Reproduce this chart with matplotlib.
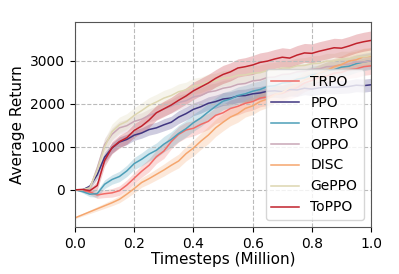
import numpy as np
import matplotlib
matplotlib.use("Agg")
import matplotlib.pyplot as plt

timesteps = [0.025 * i for i in range(41)]

trpo = [0, -20, -50, -120, -90, -70, -20, 110, 270, 430, 570, 770, 900, 1120, 1290, 1390, 1430, 1520, 1590, 1730,
        1790, 1890, 1940, 2010, 2050, 2130, 2160, 2220, 2240, 2310, 2370, 2480, 2540, 2610, 2640, 2710, 2730, 2790,
        2810, 2860, 2880]
trpo_std = [0, 30, 60, 80, 90, 100, 110, 120, 130, 140, 150, 160, 170, 170, 180, 180, 180, 190, 190, 190,
            200, 200, 200, 200, 200, 200, 200, 200, 200, 200, 200, 200, 200, 200, 200, 200, 200, 200, 200, 200, 200]
ppo = [0, 0, 80, 350, 760, 970, 1110, 1170, 1270, 1320, 1400, 1440, 1510, 1570, 1690, 1770, 1870, 1930, 2010, 2050,
       2110, 2130, 2180, 2190, 2230, 2250, 2290, 2300, 2280, 2330, 2320, 2360, 2340, 2370, 2390, 2380, 2390, 2400,
       2430, 2420, 2440]
ppo_std = [0, 20, 60, 100, 120, 120, 120, 120, 120, 120, 130, 130, 140, 140, 150, 150, 150, 150, 150, 150,
           150, 150, 150, 150, 150, 150, 150, 150, 150, 150, 150, 150, 150, 150, 150, 150, 150, 150, 150, 150, 150]
otrpo = [0, -40, -100, -90, 130, 240, 310, 440, 610, 710, 830, 920, 1060, 1170, 1310, 1420, 1560, 1670, 1810, 1940,
         2060, 2110, 2190, 2230, 2290, 2330, 2400, 2420, 2480, 2500, 2570, 2600, 2670, 2700, 2770, 2790, 2850, 2870,
         2930, 2970, 3000]
otrpo_std = [0, 30, 60, 80, 100, 110, 120, 130, 140, 150, 160, 170, 180, 180, 190, 190, 200, 200, 200, 200,
             200, 200, 200, 200, 200, 200, 200, 200, 200, 200, 200, 200, 200, 200, 200, 200, 200, 200, 200, 200, 200]
oppo = [0, 0, 30, 500, 1050, 1290, 1440, 1490, 1590, 1640, 1730, 1790, 1880, 1940, 2030, 2070, 2160, 2190, 2270,
        2300, 2360, 2390, 2450, 2470, 2530, 2550, 2610, 2620, 2680, 2690, 2740, 2750, 2800, 2810, 2860, 2870, 2910,
        2920, 2970, 2970, 3000]
oppo_std = [0, 20, 60, 120, 150, 150, 150, 150, 150, 150, 150, 160, 160, 160, 170, 170, 170, 180, 180, 180,
            180, 180, 180, 180, 180, 180, 180, 180, 180, 180, 180, 180, 180, 180, 180, 180, 180, 180, 180, 180, 180]
disc = [-650, -580, -510, -440, -370, -300, -220, -100, 30, 170, 260, 360, 460, 570, 670, 840, 970, 1130, 1270,
        1440, 1570, 1690, 1770, 1890, 1950, 2050, 2110, 2210, 2260, 2370, 2440, 2550, 2610, 2710, 2770, 2860, 2910,
        2990, 3020, 3090, 3100]
disc_std = [20, 30, 40, 50, 60, 70, 80, 90, 100, 110, 120, 130, 140, 150, 160, 170, 180, 190, 200, 200,
            200, 200, 200, 200, 200, 200, 200, 200, 200, 200, 200, 200, 200, 200, 200, 200, 200, 200, 200, 200, 200]
geppo = [0, 0, 50, 450, 1000, 1350, 1510, 1590, 1730, 1840, 1960, 2040, 2130, 2190, 2280, 2320, 2410, 2440, 2510,
         2530, 2590, 2610, 2660, 2670, 2710, 2720, 2770, 2780, 2830, 2830, 2880, 2890, 2930, 2940, 2990, 2990, 3040,
         3040, 3090, 3090, 3120]
geppo_std = [0, 20, 60, 150, 180, 180, 180, 180, 180, 180, 180, 180, 180, 180, 180, 180, 180, 180, 180, 180,
             180, 180, 180, 180, 180, 180, 180, 180, 180, 180, 180, 180, 180, 180, 180, 180, 180, 180, 180, 180, 180]
toppo = [0, 10, -20, 100, 680, 980, 1120, 1210, 1380, 1480, 1620, 1790, 1880, 1970, 2080, 2180, 2300, 2390, 2480,
         2590, 2680, 2740, 2830, 2860, 2900, 2960, 2990, 3040, 3080, 3060, 3130, 3180, 3170, 3220, 3260, 3300, 3290,
         3340, 3400, 3440, 3470]
toppo_std = [0, 20, 50, 100, 130, 140, 150, 150, 160, 160, 170, 170, 180, 180, 190, 190, 200, 200, 200, 200,
             210, 210, 210, 210, 220, 220, 220, 220, 220, 220, 220, 220, 220, 220, 220, 220, 220, 220, 220, 220, 220]

labels = ["TRPO", "PPO", "OTRPO", "OPPO", "DISC", "GePPO", "ToPPO"]
series = [trpo, ppo, otrpo, oppo, disc, geppo, toppo]
stds = [trpo_std, ppo_std, otrpo_std, oppo_std, disc_std, geppo_std, toppo_std]
colors = ["#f26b66", "#3f3580", "#4d9fb8", "#c9a7b6", "#f5a66e", "#ddd6b0", "#c1222c"]

fig = plt.figure(figsize=(3.99, 2.74), dpi=100)
ax = fig.add_axes([0.188, 0.172, 0.742, 0.748])
x = np.array(timesteps)
for lab, y, s, c in zip(labels, series, stds, colors):
    y = np.array(y, dtype=float)
    s = np.array(s, dtype=float)
    ax.fill_between(x, y - s, y + s, color=c, alpha=0.25, linewidth=0)
    ax.plot(x, y, color=c, linewidth=1.1, label=lab)

ax.set_xlim(0, 1.0)
ax.set_ylim(-860, 3900)
ax.set_xticks([0.0, 0.2, 0.4, 0.6, 0.8, 1.0])
ax.set_yticks([0, 1000, 2000, 3000])
ax.grid(True, linestyle="--", color="#bbbbbb", linewidth=0.8)
ax.tick_params(labelsize=10)
for sp in ax.spines.values():
    sp.set_color("#555555")
ax.set_xlabel("Timesteps (Million)", fontsize=11, labelpad=1)
ax.set_ylabel("Average Return", fontsize=11)
ax.legend(loc="lower right", fontsize=10)
fig.savefig("out.png", dpi=100)
